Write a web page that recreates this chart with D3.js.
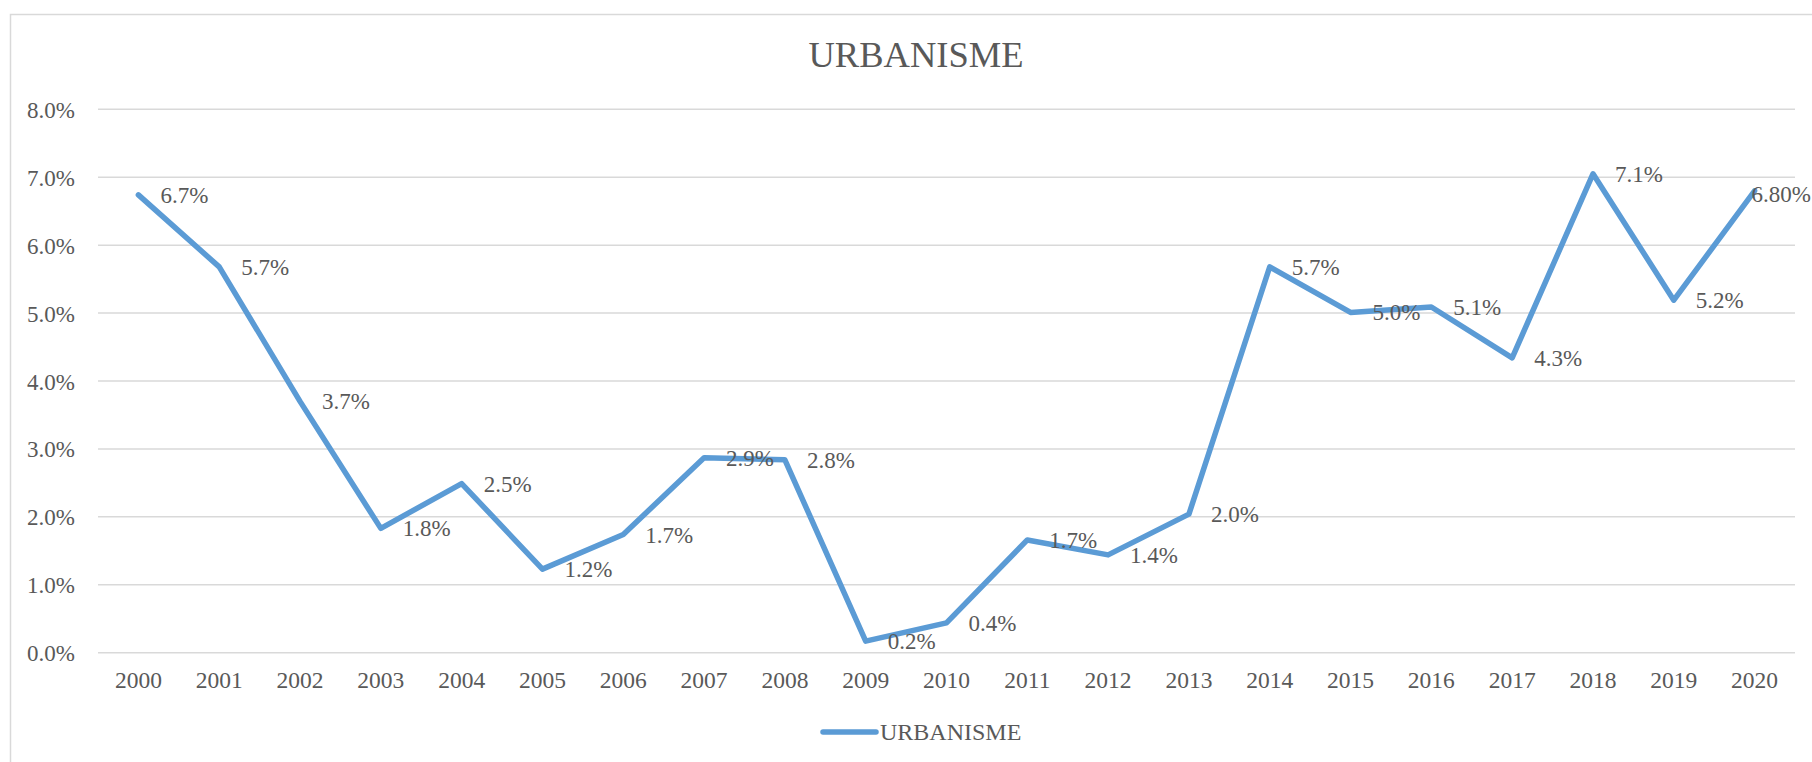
<!DOCTYPE html>
<html>
<head>
<meta charset="utf-8">
<script src="https://cdn.jsdelivr.net/npm/d3@7"></script>
<style>
  html, body { margin: 0; padding: 0; background: #fff; }
  svg { display: block; }
  text { font-family: "Liberation Serif", "Times New Roman", serif; fill: #595959; }
</style>
</head>
<body>
<svg id="chart" width="1812" height="762"></svg>
<script>
const chartTitle = "URBANISME";
const seriesName = "URBANISME";
const years = ["2000","2001","2002","2003","2004","2005","2006","2007","2008","2009","2010",
               "2011","2012","2013","2014","2015","2016","2017","2018","2019","2020"];
const values = [6.74, 5.68, 3.70, 1.83, 2.49, 1.23, 1.74, 2.87, 2.84, 0.17, 0.44,
                1.66, 1.44, 2.04, 5.68, 5.01, 5.09, 4.34, 7.05, 5.19, 6.80];
const valueLabels = ["6.7%","5.7%","3.7%","1.8%","2.5%","1.2%","1.7%","2.9%","2.8%","0.2%","0.4%",
                     "1.7%","1.4%","2.0%","5.7%","5.0%","5.1%","4.3%","7.1%","5.2%","6.80%"];
const yTicks = [0, 1, 2, 3, 4, 5, 6, 7, 8];

const svg = d3.select("#chart");
const W = 1812, H = 762;
const plot = { left: 98, right: 1795, top: 109.3, bottom: 652.7 };
const serif = "Liberation Serif, Times New Roman, serif";

// outer chart border
svg.append("rect")
  .attr("x", 10.5).attr("y", 14.5)
  .attr("width", W + 20).attr("height", H + 20)
  .attr("fill", "#fff").attr("stroke", "#D9D9D9").attr("stroke-width", 1.5);

const x = d3.scaleBand().domain(years).range([plot.left, plot.right]);
const y = d3.scaleLinear().domain([0, 8]).range([plot.bottom, plot.top]);
const cx = d => x(d) + x.bandwidth() / 2;

// gridlines
svg.append("g").selectAll("line").data(yTicks).join("line")
  .attr("x1", plot.left).attr("x2", plot.right)
  .attr("y1", d => y(d)).attr("y2", d => y(d))
  .attr("stroke", "#D9D9D9").attr("stroke-width", 1.5);

// y axis labels
const yAxis = d3.axisLeft(y).tickValues(yTicks).tickFormat(d => d.toFixed(1) + "%").tickSize(0).tickPadding(0);
const gy = svg.append("g").attr("transform", `translate(${75},0)`).call(yAxis)
  .attr("font-family", serif);
gy.select(".domain").remove();
gy.selectAll("text").attr("font-size", 23).attr("fill", "#595959")
  .attr("dy", "0.35em").attr("x", 0);

// x axis labels
const xAxis = d3.axisBottom(x).tickSize(0).tickPadding(0);
const gx = svg.append("g").attr("transform", `translate(0,${plot.bottom})`).call(xAxis)
  .attr("font-family", serif);
gx.select(".domain").remove();
gx.selectAll("text").attr("font-size", 23.5).attr("fill", "#595959")
  .attr("dy", null).attr("y", 35.5);

// line
const pts = years.map((yr, i) => ({ yr, v: values[i], lab: valueLabels[i], last: i === years.length - 1 }));
const line = d3.line().x(d => cx(d.yr)).y(d => y(d.v));
svg.append("path").datum(pts)
  .attr("d", line)
  .attr("fill", "none").attr("stroke", "#5B9BD5").attr("stroke-width", 5.5)
  .attr("stroke-linejoin", "round").attr("stroke-linecap", "round");

// data labels (right of point; the last one is pulled back inside the chart edge)
svg.append("g").attr("font-family", serif).selectAll("text").data(pts).join("text")
  .attr("x", d => d.last ? W - 1 : cx(d.yr) + 22)
  .attr("y", d => y(d.v) + (d.last ? 3 : 0))
  .attr("dy", "0.35em")
  .attr("text-anchor", d => d.last ? "end" : "start")
  .attr("font-size", 23)
  .text(d => d.lab);

// title
svg.append("text").attr("x", 916).attr("y", 67).attr("text-anchor", "middle")
  .attr("font-size", 36.5).text(chartTitle);

// legend
const lg = svg.append("g");
lg.append("line").attr("x1", 823).attr("x2", 876).attr("y1", 732).attr("y2", 732)
  .attr("stroke", "#5B9BD5").attr("stroke-width", 5.5).attr("stroke-linecap", "round");
lg.append("text").attr("x", 880).attr("y", 732).attr("dy", "0.35em")
  .attr("font-size", 24).text(seriesName);
</script>
</body>
</html>
